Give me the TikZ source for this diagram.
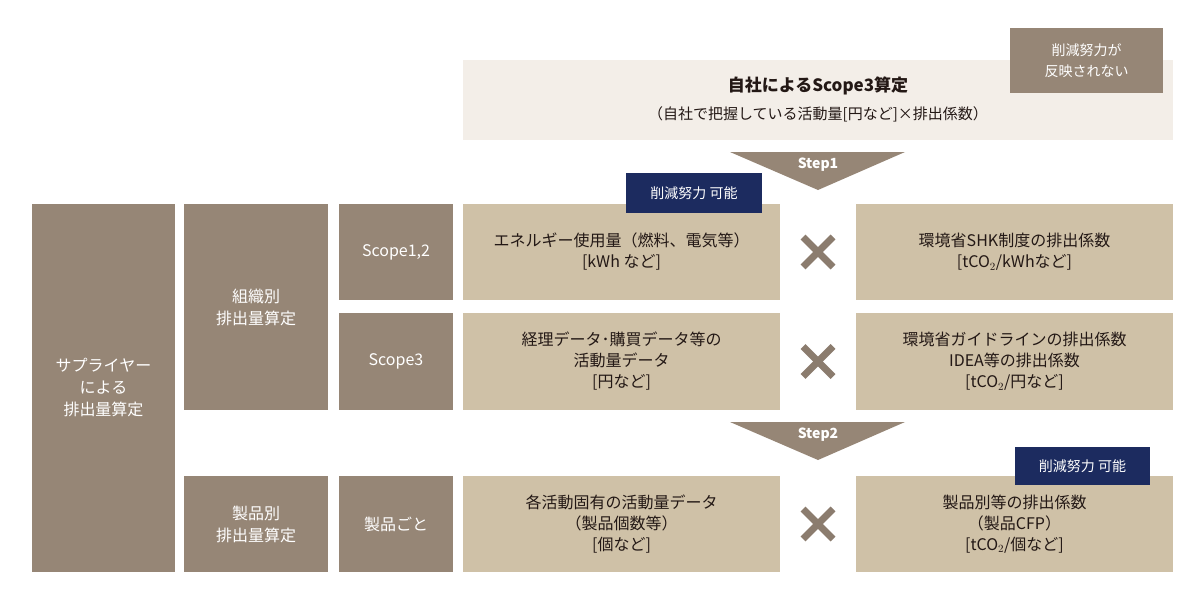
\documentclass[tikz,border=0pt]{standalone}
\usepackage{fontspec}
\setmainfont{Noto Sans CJK JP}
\definecolor{gb}{HTML}{968676}
\definecolor{tan}{HTML}{CFC1A7}
\definecolor{light}{HTML}{F3EEE8}
\definecolor{navy}{HTML}{1C2B5F}
\definecolor{txt}{HTML}{231815}
\definecolor{xm}{HTML}{8B7C6E}
\tikzset{
 gbox/.style={fill=gb,text=white,align=center,font=\fontsize{16}{22}\selectfont},
 tbox/.style={fill=tan,text=txt,align=center,font=\fontsize{16}{21}\selectfont},
 nbox/.style={fill=navy,text=white,inner sep=0pt,font=\fontsize{14}{18}\selectfont},
 cross/.style={line width=7pt,xm}
}
\begin{document}
\begin{tikzpicture}[x=1pt,y=-1pt]
\useasboundingbox (0,0) rectangle (1200,600);
\fill[light] (463,60) rectangle (1173,140);
\node[font=\fontsize{17}{20}\selectfont\bfseries,text=txt] (t1) at (818,86) {自社によるScope3算定};
\node[font=\fontsize{15}{20}\selectfont,text=txt] (t2) at (818,114) {（自社で把握している活動量[円など]×排出係数）};
\fill[gb] (1010,28) rectangle (1163,93);
\node[text=white,align=center,font=\fontsize{14}{21}\selectfont] (nr) at (1086.5,60.5) {削減努力が\\反映されない};
% steps
\fill[gb] (730,152) -- (905,152) -- (818,190) -- cycle;
\node[text=white,font=\fontsize{14}{16}\selectfont\bfseries] (s1) at (818,165) {Step1};
\fill[gb] (730,422) -- (905,422) -- (818,460) -- cycle;
\node[text=white,font=\fontsize{14}{16}\selectfont\bfseries] (s2) at (818,435) {Step2};
% left
\fill[gb] (32,204) rectangle (175,572);
\node[gbox,fill=none] (sup) at (103.5,388) {サプライヤー\\による\\排出量算定};
\fill[gb] (184,204) rectangle (328,410);
\node[gbox,fill=none] (org) at (256,307) {組織別\\排出量算定};
\fill[gb] (184,476) rectangle (328,572);
\node[gbox,fill=none] (prd) at (256,524) {製品別\\排出量算定};
\fill[gb] (339,204) rectangle (453,300);
\node[gbox,fill=none] (sc12) at (396,252) {Scope1,2};
\fill[gb] (339,313) rectangle (453,410);
\node[gbox,fill=none] (sc3) at (396,361.5) {Scope3};
\fill[gb] (339,476) rectangle (453,572);
\node[gbox,fill=none] (pe) at (396,524) {製品ごと};
% middle
\fill[tan] (463,204) rectangle (780,300);
\node[tbox,fill=none] (m1) at (621.5,252) {エネルギー使用量（燃料、電気等）\\{}[kWh など]};
\fill[tan] (463,313) rectangle (780,410);
\node[tbox,fill=none] (m2) at (621.5,361.5) {経理データ･購買データ等の\\活動量データ\\{}[円など]};
\fill[tan] (463,476) rectangle (780,572);
\node[tbox,fill=none] (m3) at (621.5,524) {各活動固有の活動量データ\\（製品個数等）\\{}[個など]};
% right
\fill[tan] (856,204) rectangle (1173,300);
\node[tbox,fill=none] (r1) at (1014.5,252) {環境省SHK制度の排出係数\\{}[tCO$_2$/kWhなど]};
\fill[tan] (856,313) rectangle (1173,410);
\node[tbox,fill=none] (r2) at (1014.5,361.5) {環境省ガイドラインの排出係数\\IDEA等の排出係数\\{}[tCO$_2$/円など]};
\fill[tan] (856,476) rectangle (1173,572);
\node[tbox,fill=none] (r3) at (1014.5,524) {製品別等の排出係数\\（製品CFP）\\{}[tCO$_2$/個など]};
% crosses
\foreach \y in {252,361.5,524}{
 \draw[cross] (818-15,\y-15) -- (818+15,\y+15);
 \draw[cross] (818-15,\y+15) -- (818+15,\y-15);
}
% navy labels
\fill[navy] (626,173) rectangle (762,213);
\node[nbox,fill=none] (n1) at (694,193) {削減努力 可能};
\fill[navy] (1015,447) rectangle (1150,485);
\node[nbox,fill=none] (n2) at (1082.5,466) {削減努力 可能};
\end{tikzpicture}
\end{document}
